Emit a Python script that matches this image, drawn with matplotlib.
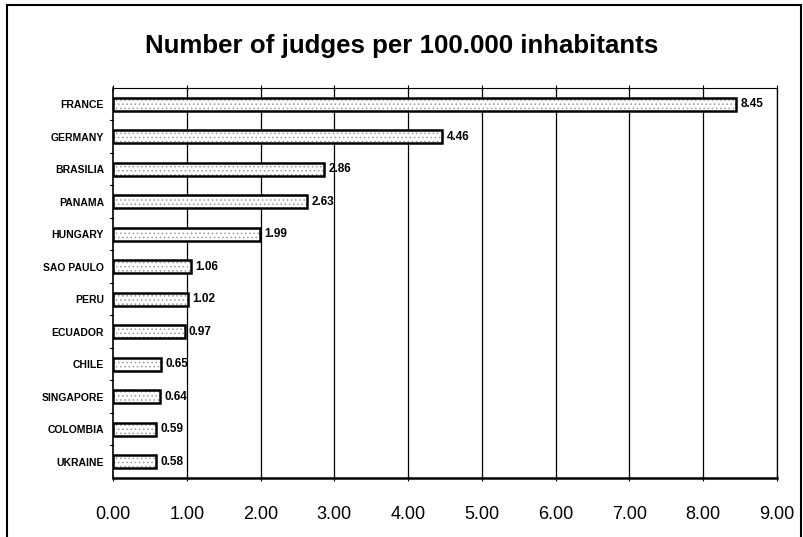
import matplotlib
matplotlib.use("Agg")
from matplotlib import pyplot as plt
from matplotlib.patches import Rectangle

countries = ["FRANCE", "GERMANY", "BRASILIA", "PANAMA", "HUNGARY", "SAO PAULO",
             "PERU", "ECUADOR", "CHILE", "SINGAPORE", "COLOMBIA", "UKRAINE"]
judges = [8.45, 4.46, 2.86, 2.63, 1.99, 1.06, 1.02, 0.97, 0.65, 0.64, 0.59, 0.58]
xticks = [0, 1, 2, 3, 4, 5, 6, 7, 8, 9]

plt.rcParams['font.family'] = ['Liberation Sans', 'DejaVu Sans']
plt.rcParams['hatch.linewidth'] = 0.6

fig = plt.figure(figsize=(8.04, 5.37), dpi=100)
ax = fig.add_axes([0.1405, 0.1099, 0.8259, 0.7263])

pos = list(range(len(countries)))
# speckled fill first, then a plain black outline on top
ax.barh(pos, judges, height=0.4, color="white", edgecolor="#9a9a9a",
        hatch="....", linewidth=0, zorder=3)
ax.barh(pos, judges, height=0.4, fill=False, edgecolor="black",
        linewidth=1.8, zorder=4)

for p, v in zip(pos, judges):
    ax.text(v + 0.06, p, f"{v:.2f}", va="center", ha="left",
            fontsize=8.5, fontweight="bold", zorder=5)

ax.set_xlim(0, 9)
ax.set_ylim(len(countries) - 0.5, -0.5)
ax.set_xticks(xticks)
ax.set_xticklabels([f"{t:.2f}" for t in xticks], fontsize=13)
ax.set_yticks(pos)
ax.set_yticklabels(countries, fontsize=7.5, fontweight="bold")
ax.tick_params(axis="y", length=0, pad=6.5)
ax.tick_params(axis="x", length=4, direction="inout", pad=18, top=True)

for t in xticks[1:]:
    ax.axvline(t, color="black", linewidth=0.9, zorder=1)

# small ticks between the categories on the left axis
for p in pos[:-1]:
    ax.plot([-0.04, 0.0], [p + 0.5, p + 0.5], color="black", linewidth=0.8,
            clip_on=False, zorder=2)

ax.spines["left"].set_linewidth(1.2)
ax.spines["bottom"].set_linewidth(1.8)
ax.spines["top"].set_linewidth(0.8)
ax.spines["top"].set_linestyle((0, (1, 1)))
ax.spines["right"].set_linewidth(0.9)

fig.text(0.5, 0.914, "Number of judges per 100.000 inhabitants", ha="center",
         va="center", fontsize=18.6, fontweight="bold")

fig.patches.append(Rectangle((0.0087, -0.01), 0.9876, 1.0007, transform=fig.transFigure,
                             fill=False, edgecolor="black", linewidth=1.5))

fig.savefig("out.png", dpi=100)
